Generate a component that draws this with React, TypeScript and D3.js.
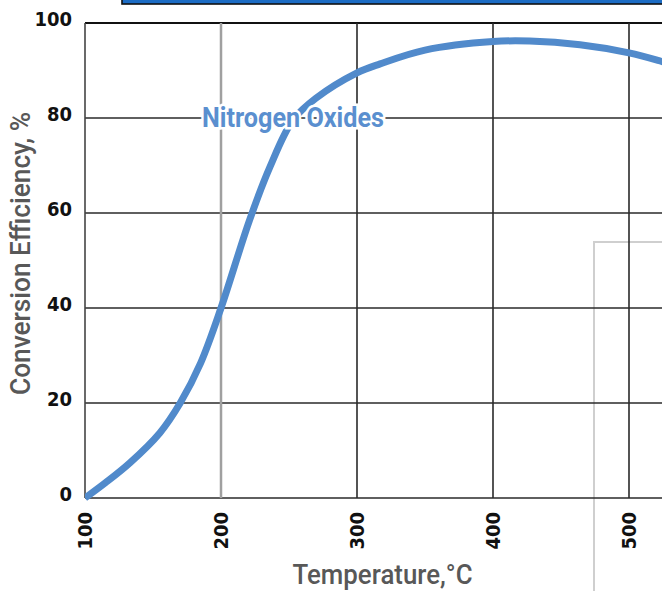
import React from "react";
import * as d3 from "d3";

const temperatures = [100, 115, 133, 155, 170, 185, 200, 221, 236, 253, 270, 300, 317, 350, 400, 427, 464, 500, 524, 540];
const efficiency = [0, 3.2, 7.4, 13.7, 20, 28.4, 40, 58.5, 69.7, 79.6, 84.2, 89.5, 91.4, 94.3, 96.1, 96.2, 95.4, 93.7, 91.9, 90.5];
const xTicks = [100, 200, 300, 400, 500];
const yTicks = [0, 20, 40, 60, 80, 100];
const seriesLabel = "Nitrogen Oxides";
const xTitle = "Temperature,°C";
const yTitle = "Conversion Efficiency, %";

const W = 662;
const H = 591;
const left = 85;
const top = 23;
const bottom = 498;
const right = 662;

export default function App() {
  const x = d3.scaleLinear().domain([100, 500]).range([85, 629]);
  const y = d3.scaleLinear().domain([0, 100]).range([bottom, top]);
  const data = temperatures.map((t, i) => [t, efficiency[i]] as [number, number]);
  const line = d3
    .line<[number, number]>()
    .x((d) => x(d[0]))
    .y((d) => y(d[1]))
    .curve(d3.curveCatmullRom.alpha(0.5));

  const tickFont = "'DejaVu Sans Condensed', 'DejaVu Sans', sans-serif";
  const narrow = "Roboto, 'DejaVu Sans Condensed', sans-serif";

  return (
    <svg
      width={W}
      height={H}
      style={{ position: "absolute", left: 0, top: 0, background: "#fff" }}
    >
      <defs>
        <clipPath id="plotClip">
          <rect x={left} y={0} width={right - left} height={bottom + 4} />
        </clipPath>
      </defs>
      {/* top blue bar */}
      <rect x={122} y={-10} width={600} height={14} fill="#1c6cc4" stroke="#111" strokeWidth={1.6} />

      {/* light gray box on right */}
      <rect x={594} y={242} width={120} height={400} fill="none" stroke="#cfcfcf" strokeWidth={2} />

      {/* horizontal grid */}
      {yTicks.map((t) => (
        <line key={"h" + t} x1={left} x2={right} y1={y(t)} y2={y(t)} stroke={t === 100 ? "#111" : "#2a2a2a"} strokeWidth={t === 100 ? 2 : 1.6} />
      ))}
      {/* vertical grid */}
      {xTicks.map((t) => (
        <line
          key={"v" + t}
          x1={x(t)}
          x2={x(t)}
          y1={top}
          y2={bottom}
          stroke={t === 200 ? "#a0a0a0" : t === 100 ? "#444" : "#2a2a2a"}
          strokeWidth={t === 200 ? 2.5 : 1.6}
        />
      ))}

      {/* curve */}
      <path d={line(data) || ""} fill="none" stroke="#518acb" strokeWidth={7} clipPath="url(#plotClip)" />

      {/* series label */}
      <text
        x={293}
        y={127}
        textAnchor="middle"
        fontFamily={narrow}
        fontWeight="bold"
        fontSize={27}
        fill="#5a8fcf"
        stroke="#fff"
        strokeWidth={5}
        paintOrder="stroke"
        textLength={182}
        lengthAdjust="spacingAndGlyphs"
      >
        {seriesLabel}
      </text>

      {/* y tick labels */}
      {yTicks.map((t) => (
        <text key={"yl" + t} x={72} y={y(t) + 2.5} textAnchor="end" fontFamily={tickFont} fontWeight="bold" fontSize={20} fill="#111">
          {t}
        </text>
      ))}
      {/* x tick labels */}
      {xTicks.map((t) => (
        <text
          key={"xl" + t}
          transform={`translate(${x(t) + 7},512) rotate(-90)`}
          textAnchor="end"
          fontFamily={tickFont}
          fontWeight="bold"
          fontSize={20}
          fill="#111"
        >
          {t}
        </text>
      ))}

      {/* axis titles */}
      <text
        x={382.5}
        y={584}
        textAnchor="middle"
        fontFamily={narrow}
        fontWeight={500}
        fontSize={28}
        fill="#585858"
        textLength={180}
        lengthAdjust="spacingAndGlyphs"
      >
        {xTitle}
      </text>
      <text
        transform="translate(30,253.5) rotate(-90)"
        textAnchor="middle"
        fontFamily={narrow}
        fontWeight={500}
        fontSize={28}
        fill="#585858"
        textLength={283}
        lengthAdjust="spacingAndGlyphs"
      >
        {yTitle}
      </text>
    </svg>
  );
}
